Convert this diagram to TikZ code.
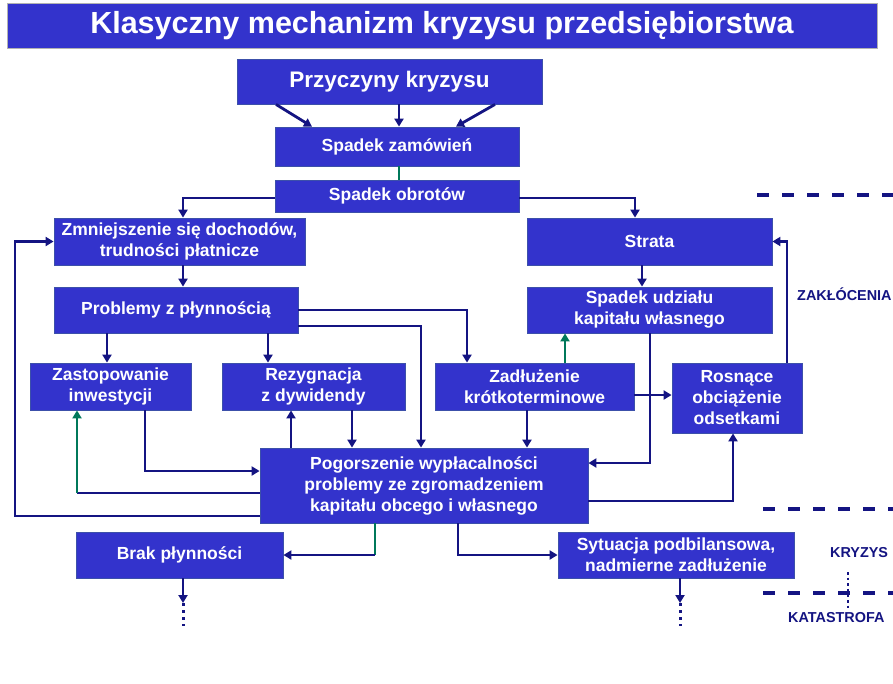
\documentclass[tikz,border=0pt]{standalone}
\usepackage{fontspec}
\setmainfont{Liberation Sans}
\usetikzlibrary{arrows.meta}
\definecolor{boxblue}{RGB}{51,51,204}
\definecolor{navy}{RGB}{20,20,130}
\definecolor{tealg}{RGB}{0,120,90}
\definecolor{edgec}{RGB}{60,80,170}
\begin{document}
\begin{tikzpicture}[x=1pt,y=-1pt,
  box/.style={draw=edgec, line width=0.8pt, fill=boxblue, text=white,
    font=\fontsize{17.5}{21}\selectfont\bfseries, align=center, inner sep=0pt},
  conn/.style={draw=navy, line width=2.8pt},
  arr/.style={conn, -{Triangle[length=8pt,width=9pt]}},
  gline/.style={draw=tealg, line width=2.8pt},
  garr/.style={gline, -{Triangle[length=8pt,width=9pt]}},
  dotsline/.style={draw=navy, line width=3pt, dash pattern=on 3pt off 4pt},
  sepline/.style={draw=navy, line width=4pt, dash pattern=on 12pt off 13pt},
  lab/.style={text=navy, font=\fontsize{14.4}{17}\selectfont\bfseries, anchor=west, inner sep=0pt}
]
\useasboundingbox[fill=white] (0,0) rectangle (893,683);

% title
\node[fill=boxblue, draw=gray!60, line width=0.8pt, minimum width=870pt, minimum height=45pt, inner sep=0pt,
  text=white, font=\fontsize{30.5}{36}\selectfont\bfseries] (title) at (442,25.5)
  {Klasyczny mechanizm kryzysu przedsiębiorstwa};

% boxes
\node[box, minimum width=305pt, minimum height=45pt, font=\fontsize{22.5}{27}\selectfont\bfseries] (przy) at (389.5,81.5) {Przyczyny kryzysu};
\node[box, minimum width=244pt, minimum height=39pt] (zam) at (397,146.5) {Spadek zamówień};
\node[box, minimum width=244pt, minimum height=32pt] (obr) at (397,196) {Spadek obrotów};
\node[box, minimum width=251pt, minimum height=47pt] (zmn) at (179.5,241.5) {Zmniejszenie się dochodów,\\trudności płatnicze};
\node[box, minimum width=245pt, minimum height=47pt] (str) at (649.5,241.5) {Strata};
\node[box, minimum width=244pt, minimum height=46pt] (pro) at (176,310) {Problemy z płynnością};
\node[box, minimum width=245pt, minimum height=46pt] (udz) at (649.5,310) {Spadek udziału\\kapitału własnego};
\node[box, minimum width=161pt, minimum height=47pt] (zas) at (110.5,386.5) {Zastopowanie\\inwestycji};
\node[box, minimum width=183pt, minimum height=47pt] (rez) at (313.5,386.5) {Rezygnacja\\z dywidendy};
\node[box, minimum width=199pt, minimum height=47pt] (zad) at (534.5,386.5) {Zadłużenie\\krótkoterminowe};
\node[box, minimum width=130pt, minimum height=70pt] (ros) at (737,398) {Rosnące\\obciążenie\\odsetkami};
\node[box, minimum width=328pt, minimum height=75pt] (pog) at (424,485.5) {Pogorszenie wypłacalności\\problemy ze zgromadzeniem\\kapitału obcego i własnego};
\node[box, minimum width=207pt, minimum height=46pt] (bra) at (179.5,555) {Brak płynności};
\node[box, minimum width=236pt, minimum height=46pt] (syt) at (676,555) {Sytuacja podbilansowa,\\nadmierne zadłużenie};

% helper coordinates
\coordinate (k1) at (77,493);
\coordinate (k2) at (15,516);
\coordinate (k3) at (375,555);
\coordinate (d1) at (183,603);
\coordinate (d1e) at (183,626);
\coordinate (d2) at (680,603);
\coordinate (d2e) at (680,626);

% connectors
\draw[arr] ([xshift=-113.5pt]przy.south) -- ([xshift=-85pt]zam.north);
\draw[arr] ([xshift=9.5pt]przy.south) -- ([xshift=2pt]zam.north);
\draw[arr] ([xshift=105.5pt]przy.south) -- ([xshift=59pt]zam.north);
\draw[gline] ([xshift=2pt]zam.south) -- ([xshift=2pt]obr.north);
\draw[arr] ([yshift=-2pt]obr.west) -| ([xshift=3.5pt]zmn.north);
\draw[arr] ([yshift=-2pt]obr.east) -| ([xshift=-14.5pt]str.north);
\draw[arr] ([xshift=3.5pt]zmn.south) -- ([xshift=7pt]pro.north);
\draw[arr] ([xshift=-7.5pt]str.south) -- ([xshift=-7.5pt]udz.north);
\draw[arr] ([xshift=-69pt]pro.south) -- ([xshift=-3.5pt]zas.north);
\draw[arr] ([xshift=92pt]pro.south) -- ([xshift=-45.5pt]rez.north);
\draw[arr] (pro.east) -| ([xshift=-67.5pt]zad.north);
\draw[arr] ([yshift=-16pt]pro.east) -| ([xshift=-3pt]pog.north);
\draw[arr] ([xshift=38.5pt]rez.south) -- ([xshift=-72pt]pog.north);
\draw[arr] ([xshift=-133pt]pog.north) -- ([xshift=-22.5pt]rez.south);
\draw[arr] ([xshift=-7.5pt]zad.south) -- ([xshift=103pt]pog.north);
\draw[garr] ([xshift=30.5pt]zad.north) -- ([xshift=-84.5pt]udz.south);
\draw[arr] ([xshift=0.5pt]udz.south) |- ([yshift=22.5pt]pog.east);
\draw[arr] ([yshift=-8.5pt]zad.east) -- ([yshift=3pt]ros.west);
\draw[arr] ([xshift=50pt]ros.north) |- (str.east);
\draw[arr] ([yshift=-15.5pt]pog.east) -| ([xshift=-4pt]ros.south);
\draw[arr] ([xshift=34.5pt]zas.south) |- ([yshift=14.5pt]pog.west);
\draw[conn] ([yshift=-7.5pt]pog.west) -- (k1);
\draw[garr] (k1) -- ([xshift=-33.5pt]zas.south);
\draw[arr] ([yshift=-30.5pt]pog.west) -- (k2) |- (zmn.west);
\draw[gline] ([xshift=-49pt]pog.south) -- (k3);
\draw[arr] (k3) -- (bra.east);
\draw[arr] ([xshift=34pt]pog.south) |- (syt.west);
\draw[arr] ([xshift=3.5pt]bra.south) -- (d1);
\draw[dotsline] (d1) -- (d1e);
\draw[arr] ([xshift=4pt]syt.south) -- (d2);
\draw[dotsline] (d2) -- (d2e);

% separators and labels
\coordinate (s1a) at (757,195); \coordinate (s1b) at (895,195);
\coordinate (s2a) at (763,509); \coordinate (s2b) at (895,509);
\coordinate (s3a) at (763,593); \coordinate (s3b) at (895,593);
\draw[sepline] (s1a) -- (s1b);
\draw[sepline] (s2a) -- (s2b);
\draw[sepline] (s3a) -- (s3b);
\coordinate (v1) at (848,572); \coordinate (v2) at (848,611);
\draw[draw=navy, line width=2.6pt, dash pattern=on 2.6pt off 3pt] (v1) -- (v2);
\node[lab] (zak) at (797,294) {ZAKŁÓCENIA};
\node[lab] (kry) at (830,553) {KRYZYS};
\node[lab] (kat) at (788,618) {KATASTROFA};
\end{tikzpicture}
\end{document}
